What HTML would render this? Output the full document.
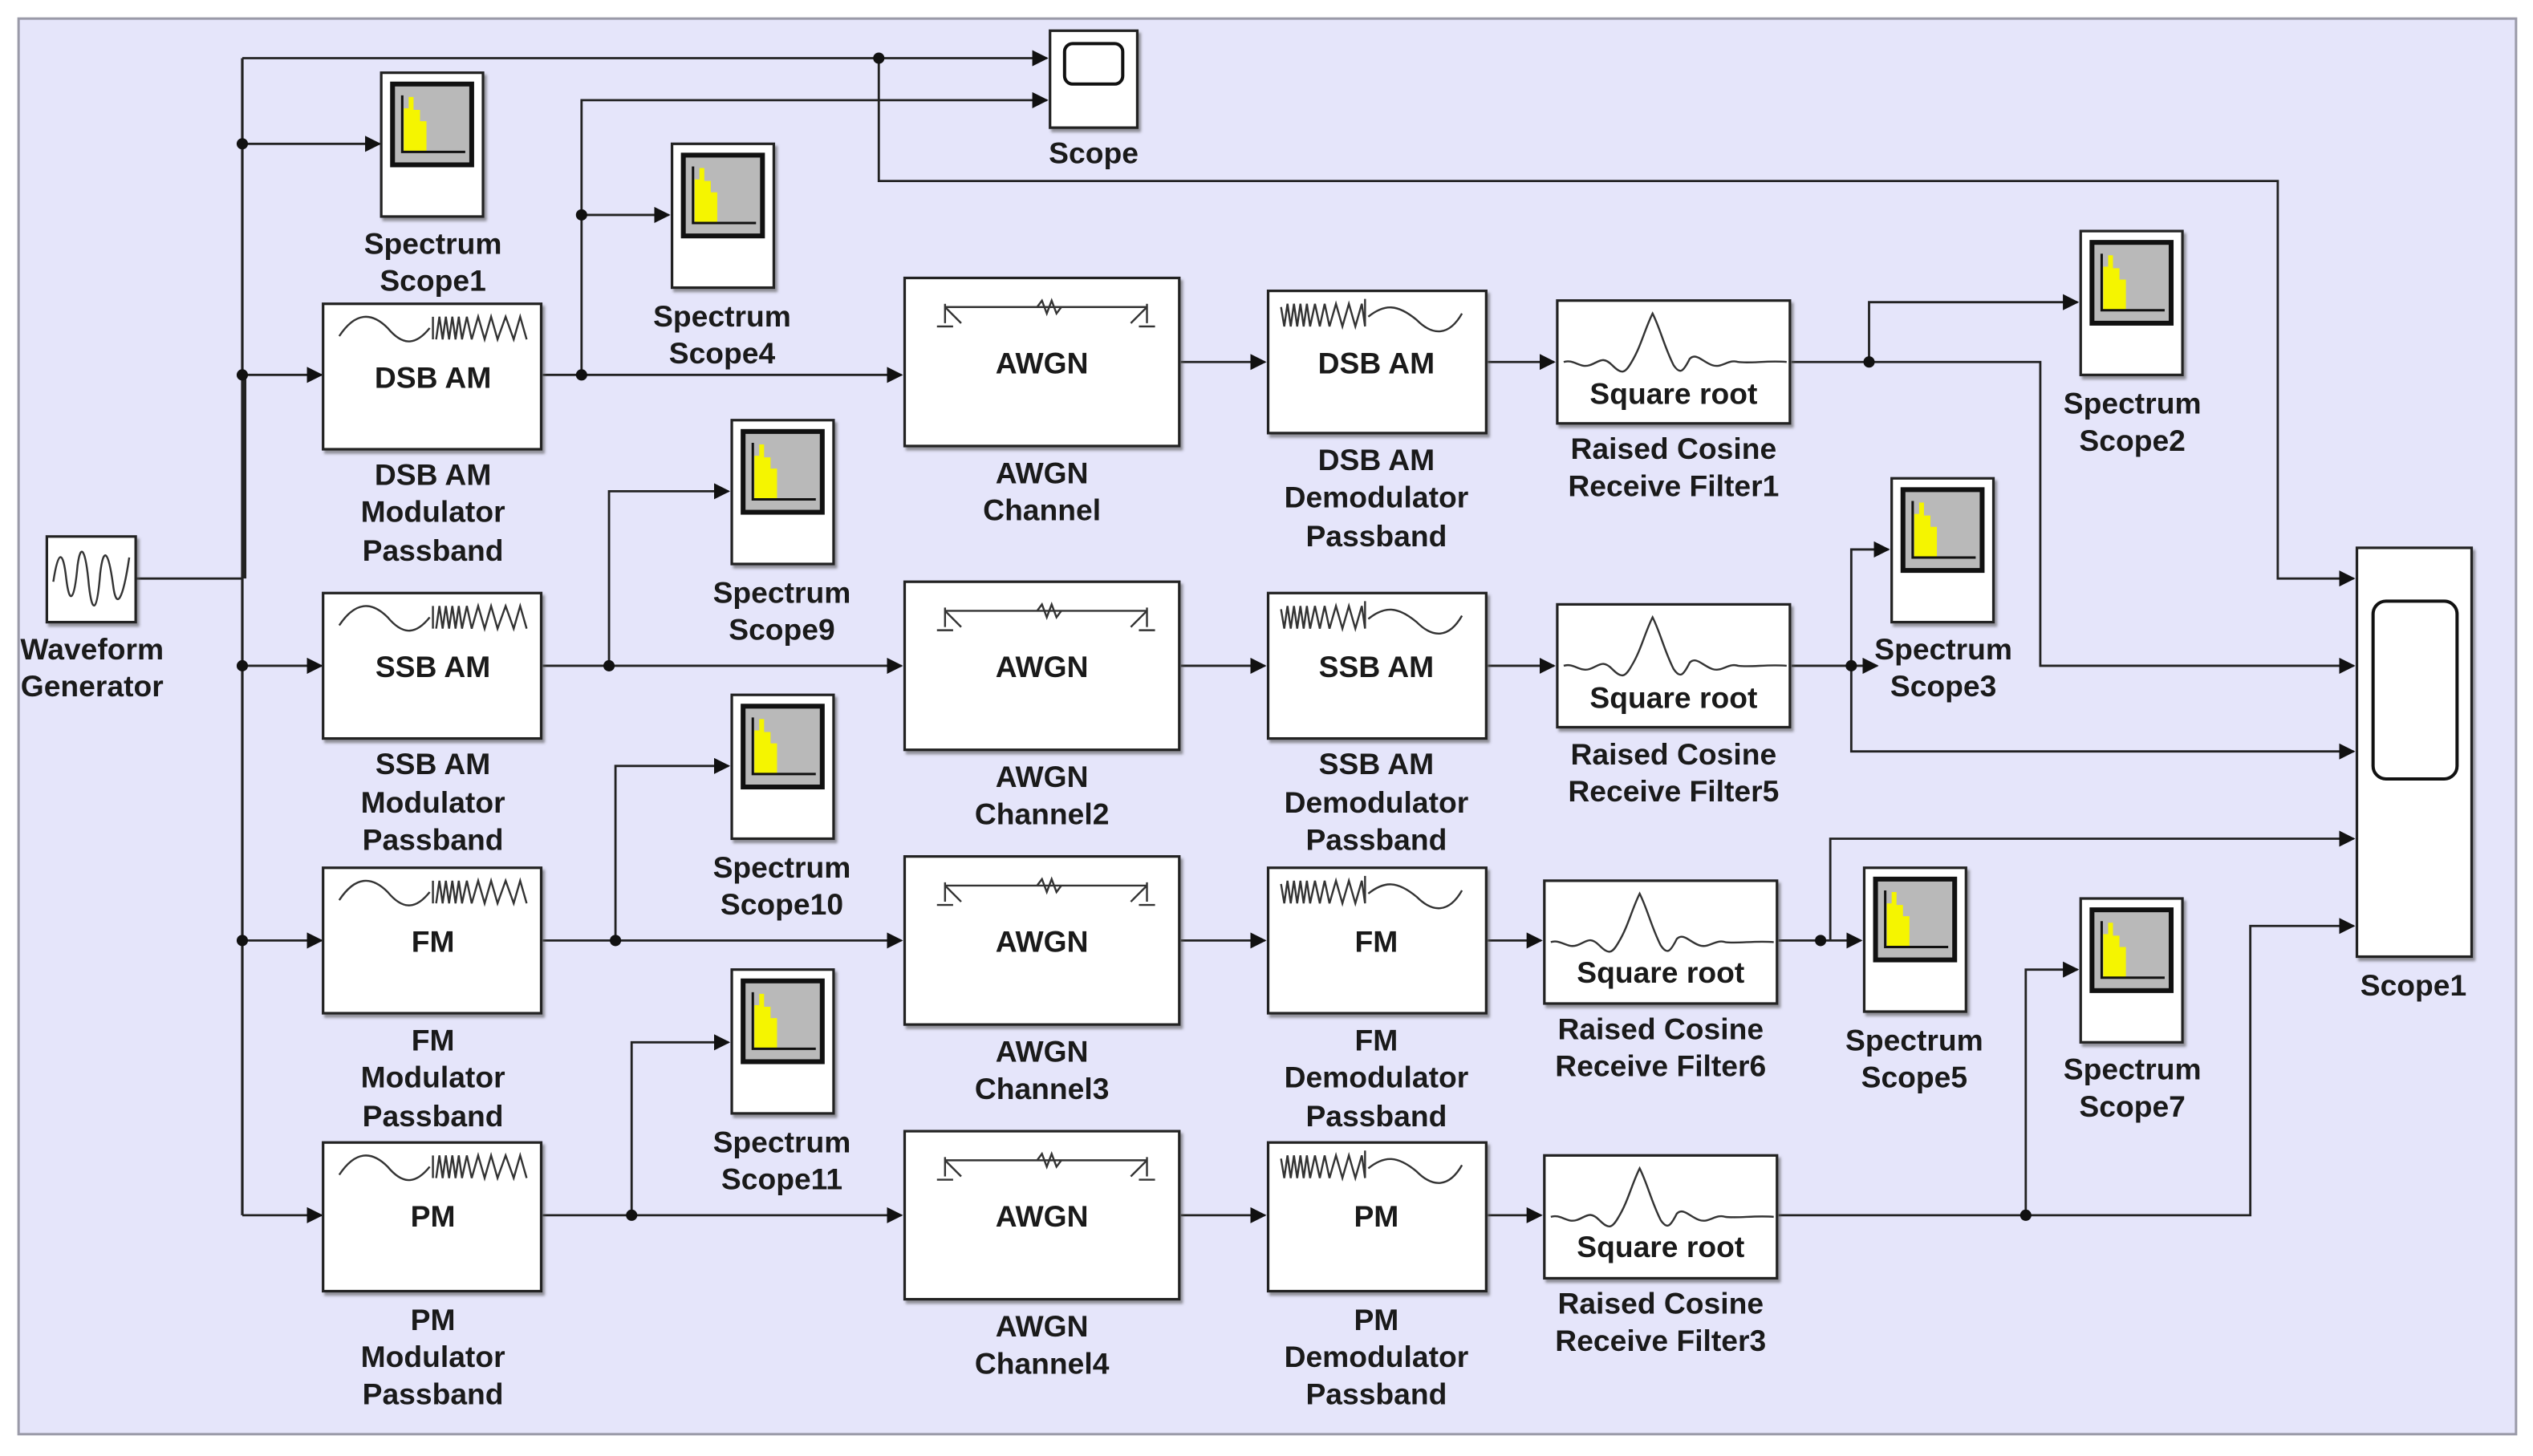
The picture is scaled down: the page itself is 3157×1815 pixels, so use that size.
<!DOCTYPE html>
<html><head><meta charset="utf-8"><style>
html,body{margin:0;padding:0;background:#fff;width:3157px;height:1815px;overflow:hidden}
svg{display:block}
text{font-family:"Liberation Sans",Arial,sans-serif;font-weight:bold;font-size:18.5px;fill:#1a1a1a;text-anchor:middle}
.ln{stroke:#222;stroke-width:1.4;fill:none}
.blk{fill:#fff;stroke:#222;stroke-width:1.6;filter:url(#sh)}
.w{fill:none;stroke:#333;stroke-width:1.2}
</style></head><body>
<svg width="3157" height="1815" viewBox="0 0 1568 901" preserveAspectRatio="none" xmlns="http://www.w3.org/2000/svg">
<defs>
<filter id="sh" x="-10%" y="-10%" width="130%" height="130%"><feDropShadow dx="1.5" dy="2" stdDeviation="0.8" flood-color="#555" flood-opacity="0.6"/></filter>
<marker id="ar" markerWidth="10" markerHeight="10" refX="9" refY="5" orient="auto" markerUnits="userSpaceOnUse"><path d="M0,0 L10,5 L0,10 z" fill="#111"/></marker>
<g id="spec">
<rect x="0" y="0" width="63" height="89" class="blk"/>
<rect x="7" y="7" width="49" height="50" fill="#b9b9b9" stroke="#111" stroke-width="3"/>
<path d="M14,49 V22 H17 V15 H20 V23 H24 V30 H28 V49 z" fill="#f5f500"/>
<path d="M13,14 V49 H52" stroke="#111" stroke-width="1.5" fill="none"/>
</g>
<g id="mod">
<path class="w" d="M10,20 C20,5 30,5 40,15 C50,27 58,25 66,15"/>
<path class="w" d="M68,8 V22 M70,22 L72,8 L74,22 L76,8 L78,22 L80,8 L82,22 L84,8 L86,22 L89,8 L92,22 L96,8 L100,22 L104,8 L108,22 L113,8 L118,22 L122,8 L126,22"/>
</g>
<g id="dem">
<path class="w" d="M8,10 L10,22 L12,8 L14,22 L16,8 L18,22 L20,8 L22,22 L24,8 L26,22 L29,8 L32,22 L35,8 L38,22 L42,8 L46,22 L50,8 L54,22 L58,8 L60,22 M60,5 V22"/>
<path class="w" d="M62,16 C72,8 80,8 92,18 C102,28 112,28 120,14"/>
</g>
<g id="awgn">
<path class="w" d="M25,18 H150 M25,16 V28 M150,16 V28 M20,30 H30 M145,30 H155 M25,18 L35,28 M150,18 L140,28 M82,18 l3,-4 l3,8 l3,-8 l3,8 l3,-4"/>
</g>
<g id="rc">
<path class="w" d="M4,38 C10,36 14,42 20,40 C26,38 28,34 34,40 C40,46 42,45 46,38 C52,28 54,18 59,8 C64,18 66,28 72,40 C76,46 78,44 82,36 C86,32 90,38 96,40 C102,42 106,36 112,38 C120,39 130,37 142,38"/>
</g>
</defs>

<rect x="0" y="0" width="1568" height="901" fill="#fff"/>
<rect x="11.5" y="11.5" width="1546" height="876" fill="#e5e5fa" stroke="#9a9aa8" stroke-width="1.5"/>

<g class="ln">
<path d="M84,358 H150"/>
<path d="M150,36 V752" stroke-width="1.6"/>
<path d="M151,232 V358" stroke-width="3"/>
<path d="M150,36 H648" marker-end="url(#ar)"/>
<path d="M544,36 V112 H1410 V358 H1457" marker-end="url(#ar)"/>
<path d="M150,89 H235" marker-end="url(#ar)"/>
<path d="M150,232 H199" marker-end="url(#ar)"/>
<path d="M150,412 H199" marker-end="url(#ar)"/>
<path d="M150,582 H199" marker-end="url(#ar)"/>
<path d="M150,752 H199" marker-end="url(#ar)"/>
<path d="M336,232 H558" marker-end="url(#ar)"/>
<path d="M360,232 V62 H648" marker-end="url(#ar)"/>
<path d="M360,133 H414" marker-end="url(#ar)"/>
<path d="M336,412 H558" marker-end="url(#ar)"/>
<path d="M377,412 V304 H451" marker-end="url(#ar)"/>
<path d="M336,582 H558" marker-end="url(#ar)"/>
<path d="M381,582 V474 H451" marker-end="url(#ar)"/>
<path d="M336,752 H558" marker-end="url(#ar)"/>
<path d="M391,752 V645 H451" marker-end="url(#ar)"/>
<path d="M731,224 H783" marker-end="url(#ar)"/>
<path d="M731,412 H783" marker-end="url(#ar)"/>
<path d="M731,582 H783" marker-end="url(#ar)"/>
<path d="M731,752 H783" marker-end="url(#ar)"/>
<path d="M921,224 H962" marker-end="url(#ar)"/>
<path d="M921,412 H962" marker-end="url(#ar)"/>
<path d="M921,582 H954" marker-end="url(#ar)"/>
<path d="M921,752 H954" marker-end="url(#ar)"/>
<path d="M1109,224 H1263 V412 H1457" marker-end="url(#ar)"/>
<path d="M1157,224 V187 H1286" marker-end="url(#ar)"/>
<path d="M1109,412 H1162" marker-end="url(#ar)"/>
<path d="M1146,412 V340 H1169" marker-end="url(#ar)"/>
<path d="M1146,412 V465 H1457" marker-end="url(#ar)"/>
<path d="M1101,582 H1152" marker-end="url(#ar)"/>
<path d="M1133,582 V519 H1457" marker-end="url(#ar)"/>
<path d="M1101,752 H1393 V573 H1457" marker-end="url(#ar)"/>
<path d="M1254,752 V600 H1286" marker-end="url(#ar)"/>
</g>
<g fill="#111">
<circle cx="150" cy="89" r="3.5"/><circle cx="150" cy="232" r="3.5"/><circle cx="150" cy="412" r="3.5"/><circle cx="150" cy="582" r="3.5"/>
<circle cx="544" cy="36" r="3.5"/><circle cx="360" cy="232" r="3.5"/><circle cx="360" cy="133" r="3.5"/>
<circle cx="377" cy="412" r="3.5"/><circle cx="381" cy="582" r="3.5"/><circle cx="391" cy="752" r="3.5"/>
<circle cx="1157" cy="224" r="3.5"/><circle cx="1146" cy="412" r="3.5"/><circle cx="1127" cy="582" r="3.5"/><circle cx="1254" cy="752" r="3.5"/>
</g>

<rect x="29" y="332" width="55" height="53" class="blk"/>
<path class="w" d="M33,360 C36,340 39,340 41,358 C43,375 46,372 48,350 C50,335 53,340 55,362 C57,380 60,380 62,355 C64,338 67,340 70,362 C72,378 76,372 80,345"/>
<text x="57" y="408">Waveform</text><text x="57" y="431">Generator</text>

<rect x="650" y="19" width="54" height="60" class="blk"/>
<rect x="659" y="27" width="36" height="25" rx="5" fill="#fff" stroke="#111" stroke-width="2"/>
<text x="677" y="101">Scope</text>

<rect x="1459" y="339" width="71" height="253" class="blk"/>
<rect x="1469" y="372" width="52" height="110" rx="8" fill="#fff" stroke="#111" stroke-width="2"/>
<text x="1494" y="616">Scope1</text>

<use href="#spec" x="236" y="45"/><text x="268" y="157">Spectrum</text><text x="268" y="180">Scope1</text>
<use href="#spec" x="416" y="89"/><text x="447" y="202">Spectrum</text><text x="447" y="225">Scope4</text>
<use href="#spec" x="1288" y="143"/><text x="1320" y="256">Spectrum</text><text x="1320" y="279">Scope2</text>
<use href="#spec" x="453" y="260"/><text x="484" y="373">Spectrum</text><text x="484" y="396">Scope9</text>
<use href="#spec" x="1171" y="296"/><text x="1203" y="408">Spectrum</text><text x="1203" y="431">Scope3</text>
<use href="#spec" x="453" y="430"/><text x="484" y="543">Spectrum</text><text x="484" y="566">Scope10</text>
<use href="#spec" x="1154" y="537"/><text x="1185" y="650">Spectrum</text><text x="1185" y="673">Scope5</text>
<use href="#spec" x="453" y="600"/><text x="484" y="713">Spectrum</text><text x="484" y="736">Scope11</text>
<use href="#spec" x="1288" y="556"/><text x="1320" y="668">Spectrum</text><text x="1320" y="691">Scope7</text>

<rect x="200" y="188" width="135" height="90" class="blk"/><use href="#mod" x="200" y="188"/><text x="268" y="240">DSB AM</text>
<text x="268" y="300">DSB AM</text><text x="268" y="323">Modulator</text><text x="268" y="347">Passband</text>
<rect x="200" y="367" width="135" height="90" class="blk"/><use href="#mod" x="200" y="367"/><text x="268" y="419">SSB AM</text>
<text x="268" y="479">SSB AM</text><text x="268" y="503">Modulator</text><text x="268" y="526">Passband</text>
<rect x="200" y="537" width="135" height="90" class="blk"/><use href="#mod" x="200" y="537"/><text x="268" y="589">FM</text>
<text x="268" y="650">FM</text><text x="268" y="673">Modulator</text><text x="268" y="697">Passband</text>
<rect x="200" y="707" width="135" height="92" class="blk"/><use href="#mod" x="200" y="707"/><text x="268" y="759">PM</text>
<text x="268" y="823">PM</text><text x="268" y="846">Modulator</text><text x="268" y="869">Passband</text>

<rect x="560" y="172" width="170" height="104" class="blk"/><use href="#awgn" x="560" y="172"/><text x="645" y="231">AWGN</text>
<text x="645" y="299">AWGN</text><text x="645" y="322">Channel</text>
<rect x="560" y="360" width="170" height="104" class="blk"/><use href="#awgn" x="560" y="360"/><text x="645" y="419">AWGN</text>
<text x="645" y="487">AWGN</text><text x="645" y="510">Channel2</text>
<rect x="560" y="530" width="170" height="104" class="blk"/><use href="#awgn" x="560" y="530"/><text x="645" y="589">AWGN</text>
<text x="645" y="657">AWGN</text><text x="645" y="680">Channel3</text>
<rect x="560" y="700" width="170" height="104" class="blk"/><use href="#awgn" x="560" y="700"/><text x="645" y="759">AWGN</text>
<text x="645" y="827">AWGN</text><text x="645" y="850">Channel4</text>

<rect x="785" y="180" width="135" height="88" class="blk"/><use href="#dem" x="785" y="180"/><text x="852" y="231">DSB AM</text>
<text x="852" y="291">DSB AM</text><text x="852" y="314">Demodulator</text><text x="852" y="338">Passband</text>
<rect x="785" y="367" width="135" height="90" class="blk"/><use href="#dem" x="785" y="367"/><text x="852" y="419">SSB AM</text>
<text x="852" y="479">SSB AM</text><text x="852" y="503">Demodulator</text><text x="852" y="526">Passband</text>
<rect x="785" y="537" width="135" height="90" class="blk"/><use href="#dem" x="785" y="537"/><text x="852" y="589">FM</text>
<text x="852" y="650">FM</text><text x="852" y="673">Demodulator</text><text x="852" y="697">Passband</text>
<rect x="785" y="707" width="135" height="92" class="blk"/><use href="#dem" x="785" y="707"/><text x="852" y="759">PM</text>
<text x="852" y="823">PM</text><text x="852" y="846">Demodulator</text><text x="852" y="869">Passband</text>

<rect x="964" y="186" width="144" height="76" class="blk"/><use href="#rc" x="964" y="186"/><text x="1036" y="250">Square root</text>
<text x="1036" y="284">Raised Cosine</text><text x="1036" y="307">Receive Filter1</text>
<rect x="964" y="374" width="144" height="76" class="blk"/><use href="#rc" x="964" y="374"/><text x="1036" y="438">Square root</text>
<text x="1036" y="473">Raised Cosine</text><text x="1036" y="496">Receive Filter5</text>
<rect x="956" y="545" width="144" height="76" class="blk"/><use href="#rc" x="956" y="545"/><text x="1028" y="608">Square root</text>
<text x="1028" y="643">Raised Cosine</text><text x="1028" y="666">Receive Filter6</text>
<rect x="956" y="715" width="144" height="76" class="blk"/><use href="#rc" x="956" y="715"/><text x="1028" y="778">Square root</text>
<text x="1028" y="813">Raised Cosine</text><text x="1028" y="836">Receive Filter3</text>
</svg>
</body></html>
